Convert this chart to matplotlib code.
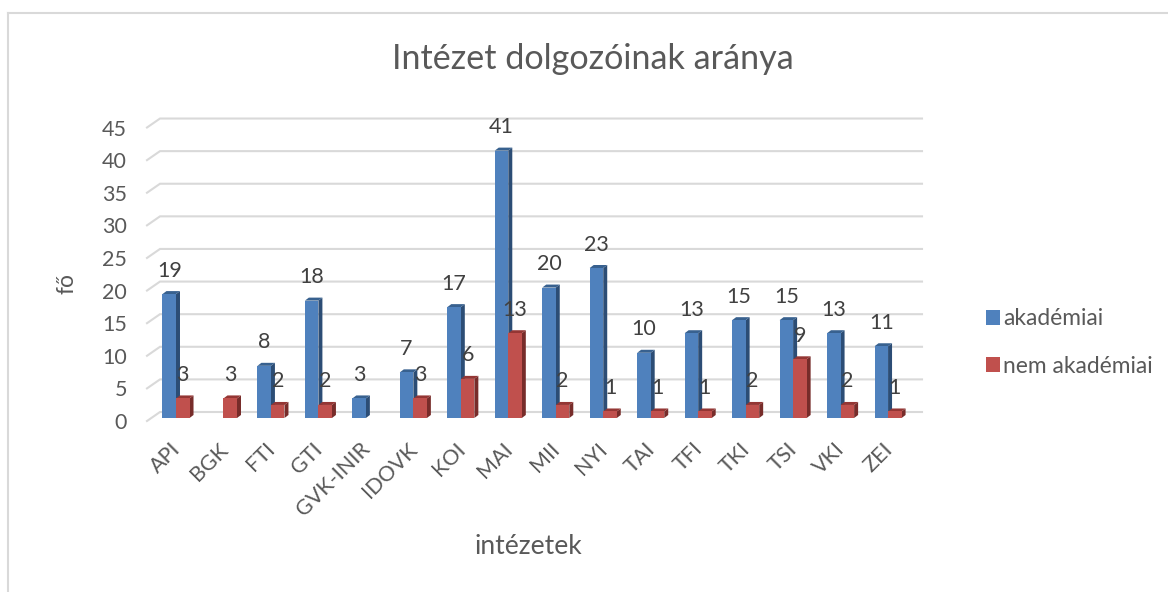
import matplotlib
matplotlib.use("Agg")
import matplotlib.pyplot as plt
from matplotlib.lines import Line2D
from matplotlib.patches import Polygon
from matplotlib.transforms import ScaledTranslation

categories = ["API", "BGK", "FTI", "GTI", "GVK-INIR", "IDOVK", "KOI", "MAI",
              "MII", "NYI", "TAI", "TFI", "TKI", "TSI", "VKI", "ZEI"]
akademiai = [19, 0, 8, 18, 3, 7, 17, 41, 20, 23, 10, 13, 15, 15, 13, 11]
nem_akademiai = [3, 3, 2, 2, 0, 3, 6, 13, 2, 1, 1, 1, 2, 9, 2, 1]
y_ticks = list(range(0, 50, 5))

W, H = 1168, 592
plt.rcParams["font.family"] = ["Lato", "DejaVu Sans"]
GRID = "#D9D9D9"
TXT = "#595959"
LBL = "#404040"

fig = plt.figure(figsize=(W / 100, H / 100), dpi=100, facecolor="white")
L, R, T, B = 147, 922, 118, 421
ax = fig.add_axes([L / W, (H - B) / H, (R - L) / W, (B - T) / H])
xmin, xmax = -0.611, 15.715
ymin, ymax = -0.46, 46.0
ax.set_xlim(xmin, xmax)
ax.set_ylim(ymin, ymax)
for s in ax.spines.values():
    s.set_visible(False)

# frame
for xs, ys in [((8, 8), (0, H - 13)), ((8, W), (H - 13, H - 13))]:
    fig.add_artist(Line2D([x / W for x in xs], [y / H for y in ys],
                          color=GRID, lw=1.5, transform=fig.transFigure))

# gridlines with the 3D wall corner
gdx, gdy = 0.274, 1.38
for v in y_ticks:
    y0 = v + ymin
    ax.plot([xmin, xmin + gdx, xmax], [y0, y0 + gdy, y0 + gdy],
            color=GRID, lw=1.5, zorder=1, clip_on=False, solid_joinstyle="miter")

bw = 0.285
ddx, ddy = 0.084, 0.46


def draw(values, offs, front, side, top, label, z):
    xs = [i + offs for i in range(len(values))]
    ax.bar(xs, values, width=bw, align="edge", color=front, zorder=z + 1, label=label, linewidth=0)
    for x, v in zip(xs, values):
        if v == 0:
            continue
        ax.add_patch(Polygon([(x + bw, 0), (x + bw + ddx, ddy), (x + bw + ddx, v + ddy), (x + bw, v)],
                             closed=True, fc=side, ec="none", zorder=z))
        ax.add_patch(Polygon([(x, v), (x + ddx, v + ddy), (x + bw + ddx, v + ddy), (x + bw, v)],
                             closed=True, fc=top, ec="none", zorder=z))
        ax.text(x + bw / 2, v + 3.6, str(v), ha="center", va="center",
                fontsize=15.5, color=LBL, zorder=10)


draw(akademiai, -bw, "#4F81BD", "#2C4D75", "#38618F", "akadémiai", 2)
draw(nem_akademiai, 0, "#C0504D", "#772C2A", "#943634", "nem akadémiai", 4)

ax.set_yticks([v + ymin for v in y_ticks])
ax.set_yticklabels([str(v) for v in y_ticks], fontsize=15.5, color=TXT)
ax.tick_params(axis="y", length=0, pad=14.5)
ax.set_xticks(range(len(categories)))
ax.set_xticklabels(categories, rotation=45, ha="right", va="top",
                   rotation_mode="anchor", fontsize=15.5, color=TXT)
ax.tick_params(axis="x", length=0, pad=13)
shift = ScaledTranslation(-6 / 100, 0, fig.dpi_scale_trans)
for t in ax.get_xticklabels():
    t.set_transform(t.get_transform() + shift)

fig.text(593 / W, 1 - 59 / H, "Intézet dolgozóinak aránya", ha="center", va="center",
         fontsize=24.6, color=TXT)
fig.text(67 / W, 1 - 283 / H, "fő", rotation=90, ha="center", va="center",
         fontsize=16.5, color=TXT)
fig.text(528 / W, 1 - 546 / H, "intézetek", ha="center", va="center",
         fontsize=19, color=TXT)

leg = ax.legend(loc="upper left", bbox_to_anchor=(978 / W, 1 - 300 / H),
                bbox_transform=fig.transFigure, frameon=False, fontsize=16.4,
                handlelength=0.61, handleheight=0.61, handletextpad=0.12,
                labelspacing=1.15, borderpad=0, borderaxespad=0.37, labelcolor=TXT)

fig.savefig("out.png", dpi=100)
